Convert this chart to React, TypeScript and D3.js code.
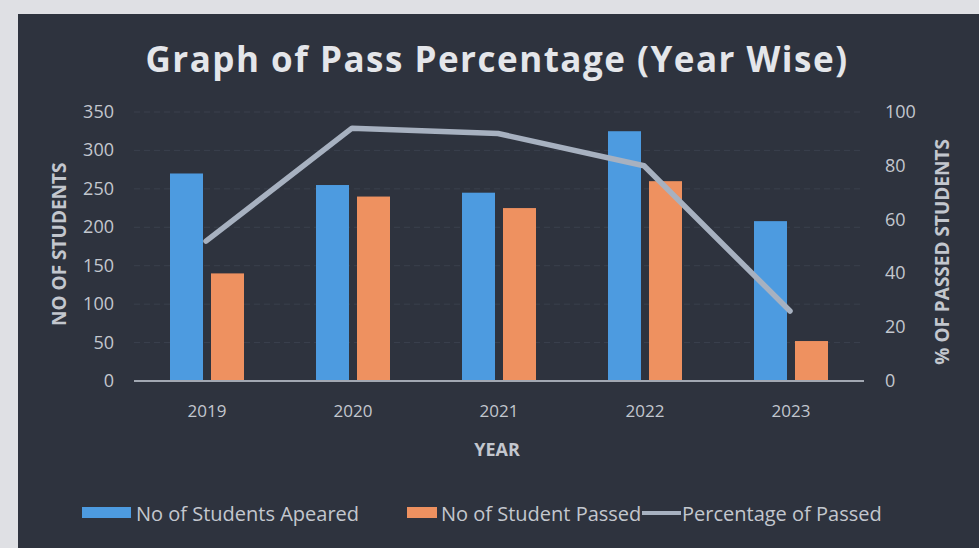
import React from "react";
import * as d3 from "d3";

const years = ["2019", "2020", "2021", "2022", "2023"];
const appeared = [270, 255, 245, 325, 208];
const passed = [140, 240, 225, 260, 52];
const percentPassed = [52, 94, 92, 80, 26];
const leftTicks = [0, 50, 100, 150, 200, 250, 300, 350];
const rightTicks = [0, 20, 40, 60, 80, 100];

const W = 979,
	H = 548;
const font = "'Open Sans', 'Noto Sans', sans-serif";
const textCol = "#c3c7ce";
const blue = "#4d9be0";
const orange = "#ee9160";
const lineCol = "#a7b1c0";

const App = () => {
	const x = d3.scaleBand().domain(years).range([134, 864]).paddingInner(0).paddingOuter(0);
	const yL = d3.scaleLinear().domain([0, 350]).range([381, 112]);
	const yR = d3.scaleLinear().domain([0, 100]).range([381, 112]);
	const barW = 33,
		gap = 8;

	const line = d3
		.line<number>()
		.x((d, i) => x(years[i])! + x.bandwidth() / 2 - 1)
		.y((d) => yR(d));

	return (
		<svg width={W} height={H} style={{ position: "absolute", left: 0, top: 0 }}>
			<rect x={0} y={0} width={W} height={H} fill="#dfe0e4" />
			<rect x={18} y={14} width={W - 18} height={H - 14} fill="#2e333e" />

			{/* faint grid */}
			{leftTicks.slice(1).map((t) => (
				<line key={"g" + t} x1={134} x2={864} y1={yL(t)} y2={yL(t)} stroke="#3a404d" strokeWidth={1} strokeDasharray="6 4" />
			))}

			<text x={497} y={72} textAnchor="middle" fill="#e4e6ea" fontFamily={font} fontWeight="bold" fontSize={35} letterSpacing={1.5}>
				Graph of Pass Percentage (Year Wise)
			</text>

			{/* bars */}
			{years.map((yr, i) => {
				const c = x(yr)! + x.bandwidth() / 2;
				return (
					<g key={yr}>
						<rect x={c - barW - gap / 2} y={yL(appeared[i])} width={barW} height={yL(0) - yL(appeared[i])} fill={blue} />
						<rect x={c + gap / 2} y={yL(passed[i])} width={barW} height={yL(0) - yL(passed[i])} fill={orange} />
					</g>
				);
			})}

			<line x1={134} x2={864} y1={yL(0)} y2={yL(0)} stroke="#a2a8b2" strokeWidth={2} />

			<path d={line(percentPassed)!} fill="none" stroke={lineCol} strokeWidth={5.5} strokeLinejoin="round" strokeLinecap="round" />

			{/* left axis */}
			{leftTicks.map((t) => (
				<text key={"l" + t} x={114} y={yL(t) + 6} textAnchor="end" fill={textCol} fontFamily={font} fontSize={18}>
					{t}
				</text>
			))}
			<text transform={`translate(66,${yL(178)}) rotate(-90)`} textAnchor="middle" fill={textCol} fontFamily={font} fontWeight="bold" fontSize={19}>
				NO OF STUDENTS
			</text>

			{/* right axis */}
			{rightTicks.map((t) => (
				<text key={"r" + t} x={885} y={yR(t) + 6} textAnchor="start" fill={textCol} fontFamily={font} fontSize={18}>
					{t}
				</text>
			))}
			<text transform={`translate(949,${yR(48)}) rotate(-90)`} textAnchor="middle" fill={textCol} fontFamily={font} fontWeight="bold" fontSize={19}>
				% OF PASSED STUDENTS
			</text>

			{/* x axis */}
			{years.map((yr) => (
				<text key={"x" + yr} x={x(yr)! + x.bandwidth() / 2} y={417} textAnchor="middle" fill={textCol} fontFamily={font} fontSize={17}>
					{yr}
				</text>
			))}
			<text x={497} y={456} textAnchor="middle" fill={textCol} fontFamily={font} fontWeight="bold" fontSize={18}>
				YEAR
			</text>

			{/* legend */}
			<rect x={82} y={507} width={49} height={11} fill={blue} />
			<text x={136} y={521} fill={textCol} fontFamily={font} fontSize={20}>
				No of Students Apeared
			</text>
			<rect x={407} y={507} width={30} height={11} fill={orange} />
			<text x={441} y={521} fill={textCol} fontFamily={font} fontSize={20}>
				No of Student Passed
			</text>
			<line x1={642} x2={681} y1={513} y2={513} stroke={lineCol} strokeWidth={4} />
			<text x={682} y={521} fill={textCol} fontFamily={font} fontSize={20}>
				Percentage of Passed
			</text>
		</svg>
	);
};

export default App;
